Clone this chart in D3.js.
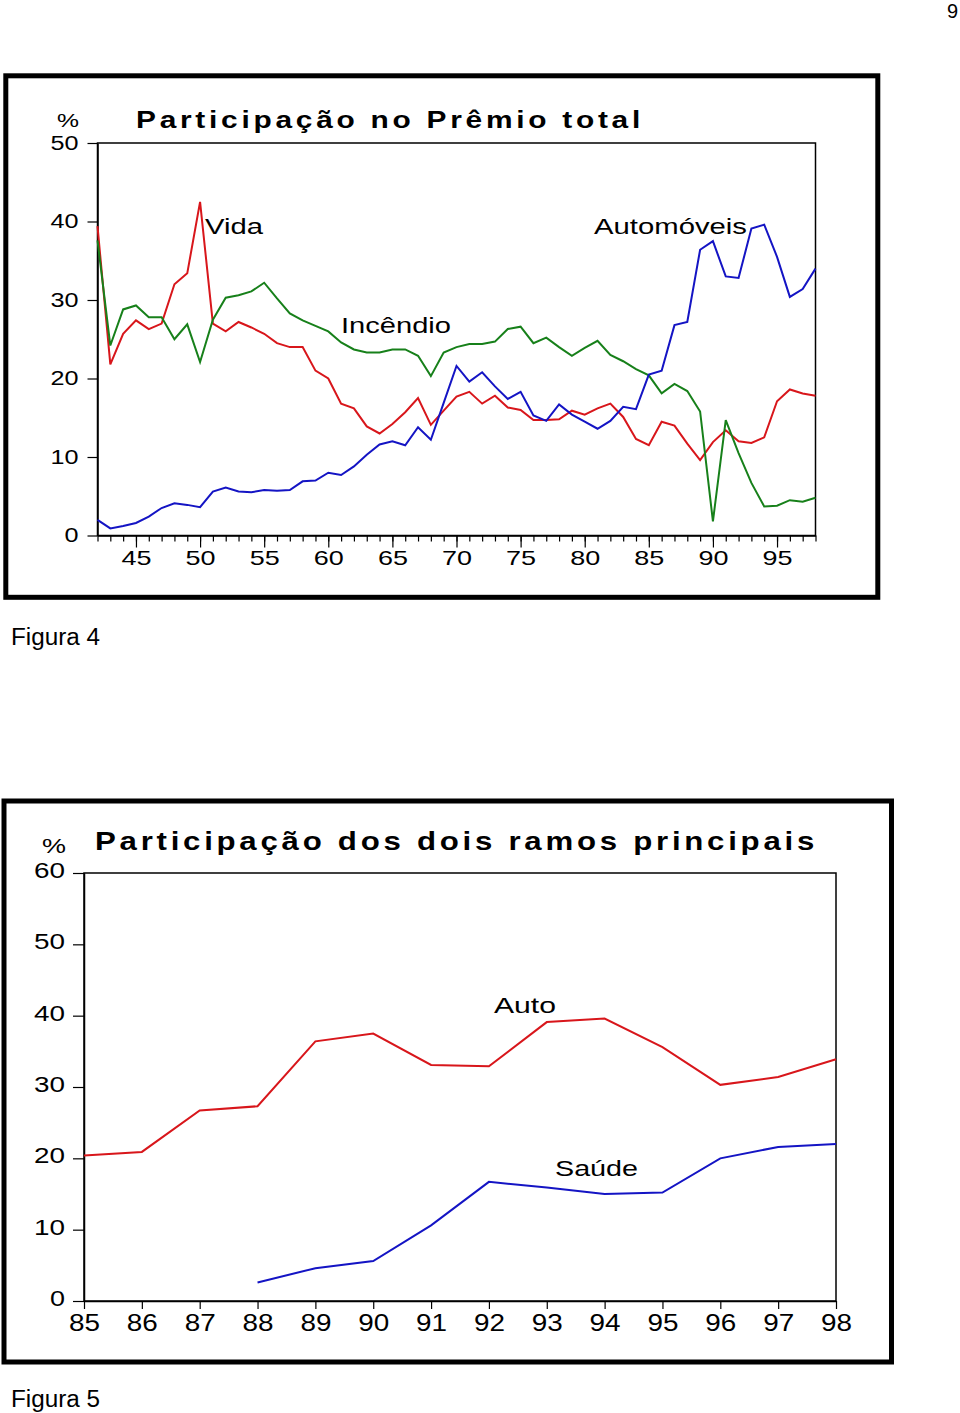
<!DOCTYPE html>
<html><head><meta charset="utf-8">
<script src="https://cdn.jsdelivr.net/npm/d3@7"></script>
<style>body{margin:0;background:#fff}svg{display:block}</style>
</head><body><svg id="c" width="960" height="1413"></svg>
<script>
// ---- Figura 4 data ----
const years1 = [1942,1943,1944,1945,1946,1947,1948,1949,1950,1951,1952,1953,1954,1955,1956,1957,1958,1959,1960,1961,1962,1963,1964,1965,1966,1967,1968,1969,1970,1971,1972,1973,1974,1975,1976,1977,1978,1979,1980,1981,1982,1983,1984,1985,1986,1987,1988,1989,1990,1991,1992,1993,1994,1995,1996,1997,1998];
const vida = [39.4,21.8,25.7,27.4,26.3,27.0,32.0,33.4,42.5,27.0,26.0,27.2,26.5,25.7,24.5,24.0,24.0,21.0,20.0,16.8,16.2,13.9,13.0,14.2,15.7,17.5,14.1,15.9,17.7,18.3,16.8,17.8,16.3,16.0,14.7,14.7,14.8,15.9,15.4,16.2,16.8,15.1,12.3,11.5,14.5,14.0,11.7,9.6,11.9,13.4,12.0,11.8,12.5,17.1,18.6,18.1,17.8];
const incendio = [37.6,24.2,28.8,29.3,27.8,27.8,25.0,26.9,22.1,27.5,30.3,30.6,31.1,32.2,30.2,28.3,27.4,26.7,26.0,24.6,23.7,23.3,23.3,23.7,23.7,22.9,20.3,23.3,24.0,24.4,24.4,24.7,26.3,26.6,24.5,25.2,24.0,22.9,23.9,24.8,23.0,22.2,21.2,20.4,18.1,19.3,18.4,15.8,1.8,14.7,10.5,6.7,3.7,3.8,4.5,4.3,4.8];
const automoveis = [2.0,0.9,1.2,1.6,2.4,3.5,4.1,3.9,3.6,5.6,6.1,5.6,5.5,5.8,5.7,5.8,6.9,7.0,8.0,7.7,8.8,10.3,11.6,12.0,11.5,13.8,12.2,16.9,21.6,19.6,20.8,19.0,17.4,18.3,15.3,14.6,16.7,15.4,14.5,13.6,14.6,16.4,16.1,20.5,21.0,26.8,27.2,36.4,37.5,33.0,32.8,39.1,39.6,35.5,30.4,31.4,34.0];
const yTicks1 = [0,10,20,30,40,50];
const xLabelTicks1 = [1945,1950,1955,1960,1965,1970,1975,1980,1985,1990,1995];
const xLabels1 = ["45","50","55","60","65","70","75","80","85","90","95"];

// ---- Figura 5 data ----
const years2 = [1985,1986,1987,1988,1989,1990,1991,1992,1993,1994,1995,1996,1997,1998];
const auto2 = [20.4,20.9,26.7,27.3,36.4,37.5,33.1,32.9,39.1,39.6,35.6,30.3,31.4,33.9];
const saude2 = [null,null,null,2.6,4.6,5.6,10.6,16.7,15.9,15.0,15.2,20.0,21.6,22.0];
const yTicks2 = [0,10,20,30,40,50,60];
const xLabels2 = ["85","86","87","88","89","90","91","92","93","94","95","96","97","98"];

const RED = "#d8161b", GREEN = "#17801a", BLUE = "#1414c4";
const FONT = "'Liberation Sans', Arial, sans-serif";

const svg = d3.select("#c");
svg.append("rect").attr("width",960).attr("height",1413).attr("fill","#fff");

// page number
svg.append("text").attr("x",958).attr("y",18).attr("text-anchor","end")
  .attr("font-family",FONT).attr("font-size",20).text("9");

function txt(x, y, s, size, len, opts={}) {
  const t = svg.append("text").attr("x",x).attr("y",y)
    .attr("font-family",FONT).attr("font-size",size).attr("fill","#000").text(s);
  if (len) t.attr("textLength",len).attr("lengthAdjust","spacingAndGlyphs");
  if (opts.bold) t.attr("font-weight","bold");
  if (opts.ls) t.attr("letter-spacing",opts.ls);
  return t;
}

// ================= Chart 1 =================
svg.append("rect").attr("x",5.8).attr("y",75.8).attr("width",872).attr("height",521.5)
  .attr("fill","none").attr("stroke","#000").attr("stroke-width",5);

const x1 = d3.scaleLinear().domain([1942,1998]).range([97.5,815.5]);
const y1 = d3.scaleLinear().domain([0,50]).range([535.5,143]);

// plot frame
svg.append("rect").attr("x",97.5).attr("y",143).attr("width",718).attr("height",392.5)
  .attr("fill","none").attr("stroke","#000").attr("stroke-width",1.5);

const ax1 = svg.append("g").attr("transform","translate(97.5,0)")
  .call(d3.axisLeft(y1).tickValues(yTicks1).tickSize(10).tickSizeOuter(0).tickPadding(9));
ax1.select(".domain").attr("stroke-width",1.5);
ax1.selectAll(".tick line").attr("stroke-width",1.2);
ax1.selectAll("text").attr("font-family",FONT).attr("font-size",20).attr("fill","#000")
  .attr("dy","0.3em")
  .attr("textLength",d => d===0?14:28).attr("lengthAdjust","spacingAndGlyphs");

// minor ticks every year
svg.append("g").attr("transform","translate(0,535.5)")
  .call(d3.axisBottom(x1).tickValues(years1).tickSize(6).tickSizeOuter(0).tickFormat(""))
  .call(g => { g.select(".domain").attr("stroke-width",1.5); g.selectAll(".tick line").attr("stroke-width",1.2); });
// major ticks with labels
const bx1 = svg.append("g").attr("transform","translate(0,535.5)")
  .call(d3.axisBottom(x1).tickValues(xLabelTicks1).tickSize(12).tickSizeOuter(0).tickPadding(3)
    .tickFormat((d,i) => xLabels1[i]));
bx1.select(".domain").remove();
bx1.selectAll(".tick line").attr("stroke-width",1.2);
bx1.selectAll("text").attr("font-family",FONT).attr("font-size",21).attr("fill","#000")
  .attr("textLength",30).attr("lengthAdjust","spacingAndGlyphs");

const line1 = d3.line().x((d,i) => x1(years1[i])).y(d => y1(d));
[[vida,RED],[incendio,GREEN],[automoveis,BLUE]].forEach(([s,c]) => {
  svg.append("path").datum(s).attr("d",line1).attr("fill","none")
    .attr("stroke",c).attr("stroke-width",2).attr("stroke-linejoin","miter");
});

txt(136,128,"Participação no Prêmio total",24,508,{bold:true,ls:3});
txt(57,127,"%",19,22);
txt(205,234,"Vida",22,58);
txt(594,234,"Automóveis",22,153);
txt(341,332.5,"Incêndio",22,110);
txt(11,645,"Figura 4",23,89);

// ================= Chart 2 =================
svg.append("rect").attr("x",4).attr("y",801).attr("width",887.5).attr("height",561)
  .attr("fill","none").attr("stroke","#000").attr("stroke-width",5);

const x2 = d3.scaleLinear().domain([1985,1998]).range([84,836]);
const y2 = d3.scaleLinear().domain([0,60]).range([1301,873]);

svg.append("rect").attr("x",84).attr("y",873).attr("width",752).attr("height",428)
  .attr("fill","none").attr("stroke","#000").attr("stroke-width",1.5);

const ax2 = svg.append("g").attr("transform","translate(84,0)")
  .call(d3.axisLeft(y2).tickValues(yTicks2).tickSize(11).tickSizeOuter(0).tickPadding(8));
ax2.select(".domain").attr("stroke-width",1.5);
ax2.selectAll(".tick line").attr("stroke-width",1.2);
ax2.selectAll("text").attr("font-family",FONT).attr("font-size",22).attr("fill","#000")
  .attr("dy","0.2em")
  .attr("textLength",d => d===0?15:31).attr("lengthAdjust","spacingAndGlyphs");

const bx2 = svg.append("g").attr("transform","translate(0,1301)")
  .call(d3.axisBottom(x2).tickValues(years2).tickSize(8).tickSizeOuter(0).tickPadding(6)
    .tickFormat((d,i) => xLabels2[i]));
bx2.select(".domain").attr("stroke-width",1.5);
bx2.selectAll(".tick line").attr("stroke-width",1.2);
bx2.selectAll("text").attr("font-family",FONT).attr("font-size",23).attr("fill","#000")
  .attr("textLength",31).attr("lengthAdjust","spacingAndGlyphs");

const line2 = d3.line().defined(d => d !== null).x((d,i) => x2(years2[i])).y(d => y2(d));
[[auto2,RED],[saude2,BLUE]].forEach(([s,c]) => {
  svg.append("path").datum(s).attr("d",line2).attr("fill","none")
    .attr("stroke",c).attr("stroke-width",2);
});

txt(95,850,"Participação dos dois ramos principais",25,723,{bold:true,ls:3});
txt(42,853,"%",21,24);
txt(494,1013,"Auto",22,62);
txt(555,1176,"Saúde",22,83);
txt(11,1407,"Figura 5",23,89);
</script></body></html>
